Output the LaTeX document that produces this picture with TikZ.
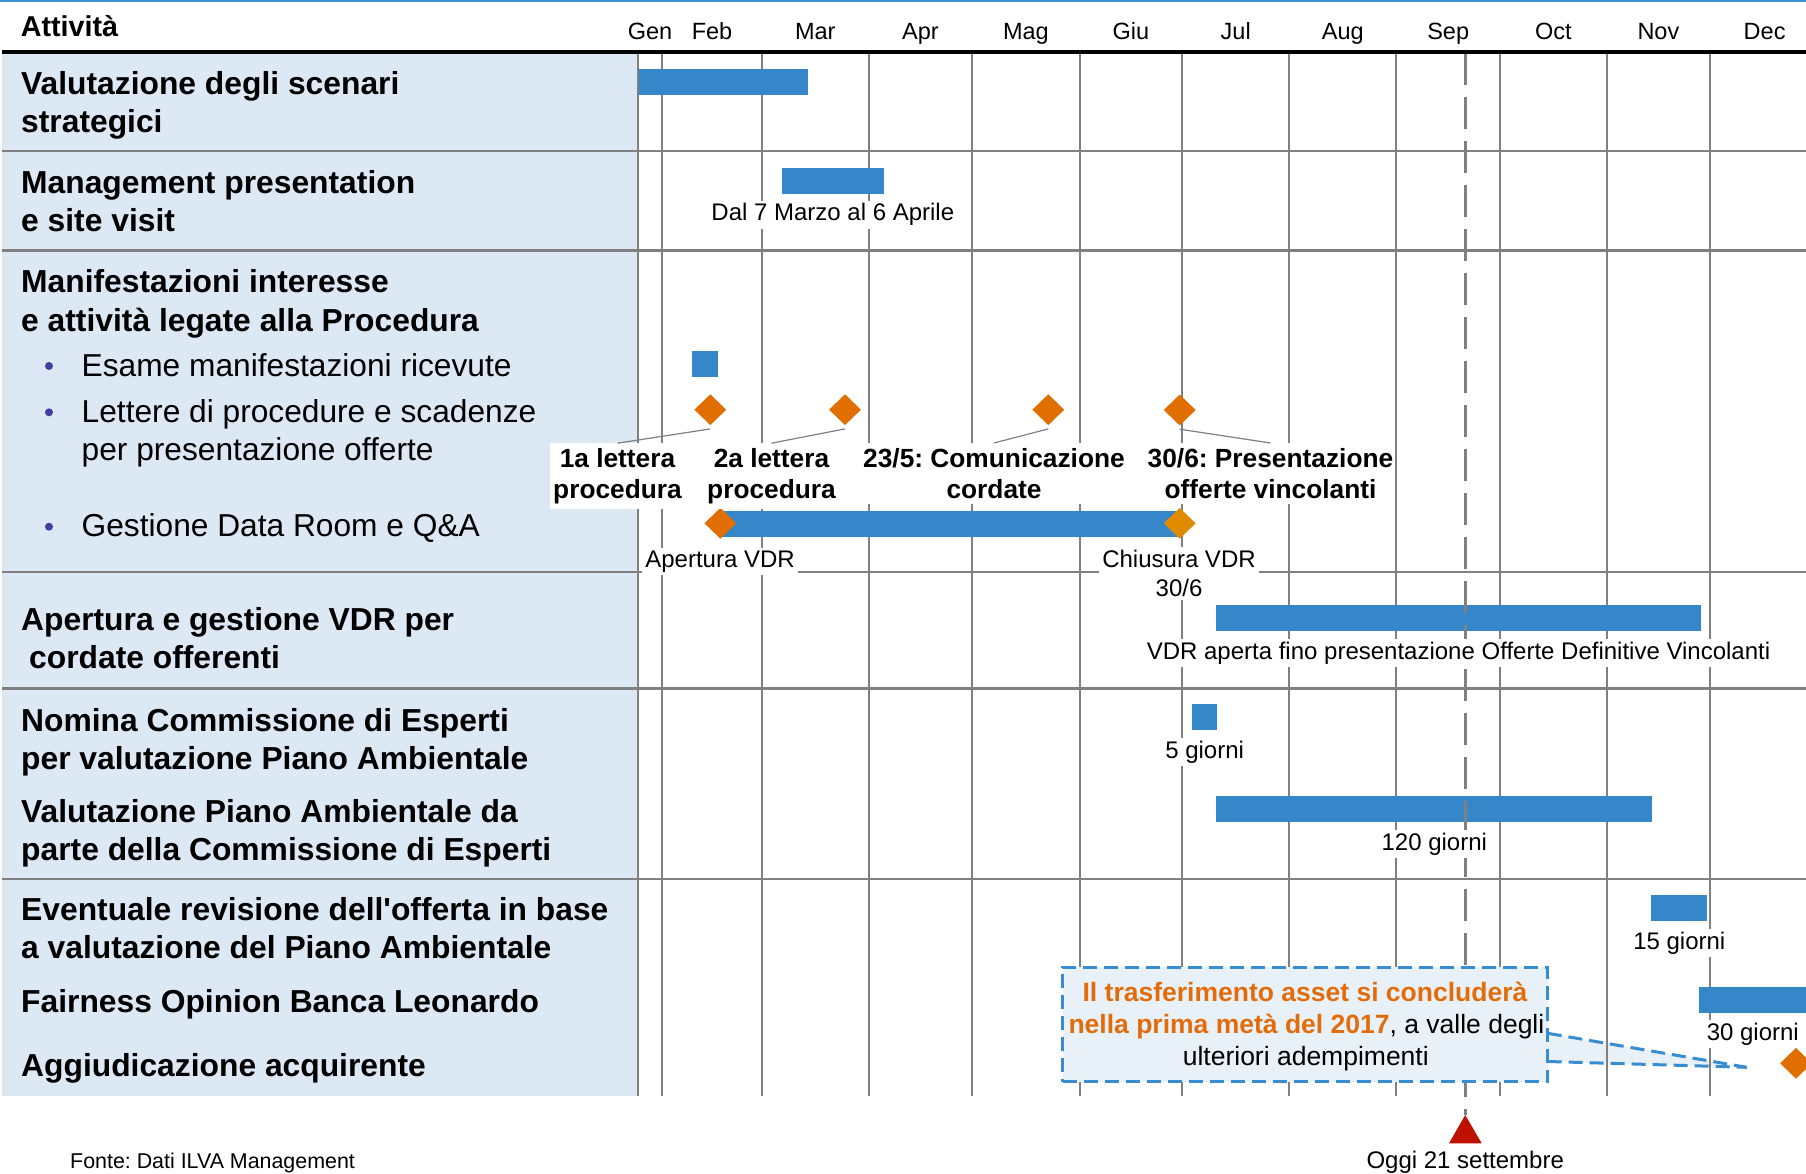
\documentclass[tikz,border=0pt]{standalone}
\usepackage{fontspec}
\setmainfont{Liberation Sans}[Ligatures=TeXOff]
\usetikzlibrary{shapes.geometric}
\definecolor{barblue}{RGB}{54,135,202}
\definecolor{msorange}{RGB}{224,110,0}
\definecolor{msamber}{RGB}{224,138,0}
\definecolor{txtorange}{RGB}{227,108,10}
\definecolor{panelblue}{RGB}{220,232,244}
\definecolor{gridgray}{RGB}{128,128,128}
\definecolor{callblue}{RGB}{56,140,208}
\definecolor{callfill}{RGB}{232,240,248}
\definecolor{todayred}{RGB}{192,16,0}
\definecolor{bulletblue}{RGB}{64,64,160}
\definecolor{topblue}{RGB}{60,145,215}
\newcommand\fsHead{\fontsize{28.7}{34}\selectfont\bfseries}
\newcommand\fsTitle{\fontsize{31.8}{38}\selectfont\bfseries}
\newcommand\fsBul{\fontsize{31.7}{38}\selectfont}
\newcommand\fsMonth{\fontsize{23.5}{28}\selectfont}
\newcommand\fsLab{\fontsize{24}{29}\selectfont}
\newcommand\fsMs{\fontsize{26.3}{31.5}\selectfont\bfseries}
\newcommand\fsCall{\fontsize{26.5}{31.7}\selectfont}
\newcommand\fsSrc{\fontsize{21.4}{25}\selectfont}
\frenchspacing
\begin{document}
\frenchspacing
\begin{tikzpicture}[x=1pt,y=-1pt,
  title/.style={anchor=base west,inner sep=0pt,font=\fsTitle},
  bul/.style={anchor=base west,inner sep=0pt,font=\fsBul},
  month/.style={anchor=base,inner sep=0pt,font=\fsMonth},
  barlabel/.style={anchor=base,fill=white,inner xsep=3pt,inner ysep=3pt,font=\fsLab},
  mslabel/.style={fill=white,align=center,inner xsep=3pt,inner ysep=5pt,font=\fsMs},
  milestone/.style={shape=diamond,fill=msorange,minimum width=32pt,minimum height=31pt,inner sep=0pt},
  gridline/.style={draw=gridgray,line width=2pt},
  sepline/.style={draw=gridgray,line width=2.5pt},
  leader/.style={draw=gridgray,line width=1.2pt},
  bar/.style={fill=barblue},
  calldash/.style={draw=callblue,line width=3pt,dash pattern=on 14pt off 7pt},
  bulletdot/.style={circle,fill=bulletblue,inner sep=0pt,minimum size=8pt}
]
\useasboundingbox (0,0) rectangle (1806,1174);
% top line and header
\draw[topblue,line width=2pt] (0,1) -- (1806,1);
\node[anchor=base west,inner sep=0pt,font=\fsHead] (hAtt) at (20.7,36.7) {Attività};
\foreach \n/\x in {Gen/650,Feb/712,Mar/815.3,Apr/920.4,Mag/1025.9,Giu/1130.9,Jul/1235.7,Aug/1342.8,Sep/1448.2,Oct/1553.4,Nov/1658.4,Dec/1764.6}
  \node[month] (m\n) at (\x,39.3) {\n};
% left panel
\fill[panelblue] (2,54.3) rectangle (637.8,1095.5);
% callout wedge fill
\coordinate (cwa) at (1547.7,1033.3);
\coordinate (cwb) at (1547.7,1061.5);
\coordinate (tip) at (1746.7,1067.3);
\fill[callfill] (cwa) -- (tip) -- (cwb) -- cycle;
% grid
\foreach \x in {637.8,662,762,868.6,972.2,1079.5,1182.2,1289.2,1396.3,1500,1606.8,1709.9}
  \draw[gridline] (\x,54.3) -- (\x,1095.5);
\foreach \y in {151.2,250.5,572,688.3,878.8}
  \draw[sepline] (2,\y) -- (1806,\y);
% bars
\fill[bar] (639,69) rectangle (808,94.7);
\fill[bar] (781.7,167.7) rectangle (883.7,193.7);
\fill[bar] (692,351) rectangle (718.3,377);
\fill[bar] (721,511) rectangle (1180,537);
\fill[bar] (1215.9,605.3) rectangle (1700.6,630.7);
\fill[bar] (1192.2,704.3) rectangle (1217.4,730.3);
\fill[bar] (1215.9,796) rectangle (1652.3,822);
\fill[bar] (1650.8,895) rectangle (1707.3,921);
\fill[bar] (1698.6,986.7) rectangle (1815,1012.7);
% today line
\draw[gridgray,line width=3pt,dash pattern=on 32pt off 12pt] (1465.2,52.7) -- (1465.2,1115);
\draw[line width=4pt] (2,52.3) -- (1806,52.3);
% milestones
\node[milestone] (d1) at (710.3,409.7) {};
\node[milestone] (d2) at (845,409.7) {};
\node[milestone] (d3) at (1048.3,409.7) {};
\node[milestone] (d4) at (1179.7,410) {};
\node[milestone] (v1) at (720.4,523.3) {};
\node[milestone,fill=msamber] (v2) at (1179.7,523.3) {};
\node[milestone] (dz) at (1796,1063.3) {};
\node[mslabel] (l1) at (617.5,476.4) {1a lettera\\procedura};
\node[mslabel] (l2) at (771.5,476.4) {2a lettera\\procedura};
\node[mslabel] (l3) at (994,473.6) {23/5: Comunicazione\\cordate};
\node[mslabel,inner xsep=1pt] (l4) at (1270.5,473.6) {30/6: Presentazione\\offerte vincolanti};
\draw[leader] ([yshift=-3.5pt]d1.south) -- (l1.north);
\draw[leader] ([yshift=-3.5pt]d2.south) -- (l2.north);
\draw[leader] ([yshift=-3.5pt]d3.south) -- (l3.north);
\draw[leader] ([yshift=-3.5pt]d4.south) -- (l4.north);
% bar labels
\node[barlabel] (t1) at (832.8,221) {Dal 7 Marzo al 6 Aprile};
\node[barlabel] (t2) at (720,567.5) {Apertura VDR};
\node[fill=white,align=center,inner xsep=3pt,inner ysep=3pt,font=\fsLab] (t3) at (1179,573.5) {Chiusura VDR\\30/6};
\node[barlabel] (t4) at (1458.5,659) {VDR aperta fino presentazione Offerte Definitive Vincolanti};
\node[barlabel] (t5) at (1204.6,758.3) {5 giorni};
\node[barlabel] (t6) at (1434.3,850) {120 giorni};
\node[barlabel] (t7) at (1679.3,949.3) {15 giorni};
\node[barlabel] (t8) at (1752.8,1040) {30 giorni};
% callout
\node[draw=callblue,fill=callfill,line width=3pt,dash pattern=on 14pt off 7pt,minimum width=485pt,minimum height=114.7pt,inner sep=0pt] (callout) at (1305.2,1024.35) {};
\node[anchor=base,inner sep=0pt,font=\fsCall\bfseries,text=txtorange] (c1) at (1305,1001.7) {Il trasferimento asset si concluderà};
\node[anchor=base,inner sep=0pt,font=\fsCall] (c2) at (1306.4,1033.3) {{\bfseries\color{txtorange}nella prima metà del 2017}, a valle degli};
\node[anchor=base,inner sep=0pt,font=\fsCall] (c3) at (1305.8,1065) {ulteriori adempimenti};
\draw[calldash] (cwa) -- (tip);
\draw[calldash] (cwb) -- (tip);
% today marker
\fill[todayred] (1449,1143.3) -- (1465.2,1115) -- (1481.7,1143.3) -- cycle;
\node[anchor=base,inner sep=0pt,font=\fsLab] (oggi) at (1465.2,1168.5) {Oggi 21 settembre};
% left panel texts
\node[title] (r1a) at (21,95) {Valutazione degli scenari};
\node[title] (r1b) at (21,132.7) {strategici};
\node[title] (r2a) at (21,194) {Management presentation};
\node[title] (r2b) at (21,231.7) {e site visit};
\node[title] (r3a) at (21,292.7) {Manifestazioni interesse};
\node[title] (r3b) at (21,331) {e attività legate alla Procedura};
\node[bulletdot] (b1) at (49,366) {};
\node[bulletdot] (b2) at (49,412.3) {};
\node[bulletdot] (b3) at (49,526.7) {};
\node[bul] (s1) at (81.5,376) {Esame manifestazioni ricevute};
\node[bul] (s2) at (81.5,422.3) {Lettere di procedure e scadenze};
\node[bul] (s3) at (81.5,460.7) {per presentazione offerte};
\node[bul] (s4) at (81.5,536.7) {Gestione Data Room e Q\&A};
\node[title] (r4a) at (21,630.7) {Apertura e gestione VDR per};
\node[title] (r4b) at (29,668.3) {cordate offerenti};
\node[title] (r5a) at (21,731.7) {Nomina Commissione di Esperti};
\node[title] (r5b) at (21,769.3) {per valutazione Piano Ambientale};
\node[title] (r6a) at (21,822.7) {Valutazione Piano Ambientale da};
\node[title] (r6b) at (21,860) {parte della Commissione di Esperti};
\node[title] (r7a) at (21,920.7) {Eventuale revisione dell'offerta in base};
\node[title] (r7b) at (21,958.3) {a valutazione del Piano Ambientale};
\node[title] (r8) at (21,1012.7) {Fairness Opinion Banca Leonardo};
\node[title] (r9) at (21,1076) {Aggiudicazione acquirente};
\node[anchor=base west,inner sep=0pt,font=\fsSrc] (src) at (70,1168.5) {Fonte: Dati ILVA Management};
\end{tikzpicture}
\end{document}
